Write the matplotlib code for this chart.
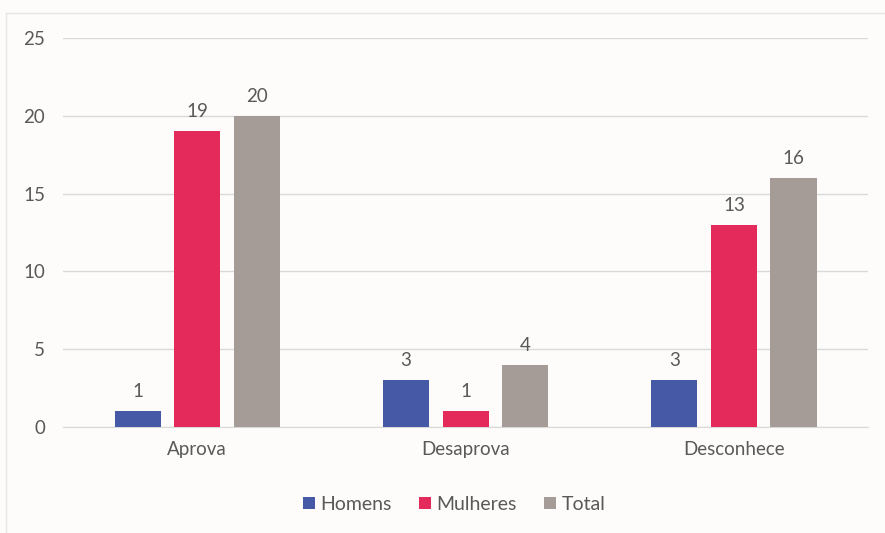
import numpy as np
import matplotlib.pyplot as plt

plt.rcParams['font.family'] = ['Lato', 'DejaVu Sans']

categorias = ['Aprova', 'Desaprova', 'Desconhece']
homens = [1, 3, 3]
mulheres = [19, 1, 13]
total = [20, 4, 16]
series = ['Homens', 'Mulheres', 'Total']
cores = ['#4659a6', '#e42a5b', '#a69c97']
texto = '#595959'

fig = plt.figure(figsize=(8.85, 5.33), dpi=100, facecolor='#fdfcfb')
ax = fig.add_axes([0.0712, 0.199, 0.9098, 0.7297])
ax.set_facecolor('#fdfcfb')

x = np.arange(len(categorias))
largura = 0.172
passo = 0.222
for i, (nome, vals, cor) in enumerate(zip(series, [homens, mulheres, total], cores)):
    barras = ax.bar(x + (i - 1) * passo, vals, largura, color=cor, label=nome, zorder=3)
    ax.bar_label(barras, padding=8, fontsize=13.5, color=texto)

ax.set_xlim(-0.5, 2.5)
ax.set_ylim(0, 25)
ax.set_yticks(range(0, 26, 5))
ax.yaxis.grid(True, color='#d9d9d9', linewidth=1)
ax.set_axisbelow(True)
for s in ax.spines.values():
    s.set_visible(False)
ax.spines['bottom'].set_visible(True)
ax.spines['bottom'].set_color('#d9d9d9')
ax.set_xticks(x, categorias)
ax.tick_params(axis='both', length=0, labelsize=13.5, colors=texto)
ax.tick_params(axis='x', pad=10)
ax.tick_params(axis='y', pad=13)

ax.legend(loc='upper center', bbox_to_anchor=(0.486, -0.133), ncol=3, frameon=False,
          fontsize=14, labelcolor=texto, handlelength=0.6, handleheight=0.6,
          handletextpad=0.3, columnspacing=1.4)

# borda fina em cima e à esquerda
fig.add_artist(plt.Line2D([0.007, 1.0], [0.9756, 0.9756], transform=fig.transFigure,
                          color='#e6e6e6', linewidth=1))
fig.add_artist(plt.Line2D([0.007, 0.007], [0.0, 0.9756], transform=fig.transFigure,
                          color='#e6e6e6', linewidth=1))

fig.savefig('out.png', dpi=100, facecolor=fig.get_facecolor())
